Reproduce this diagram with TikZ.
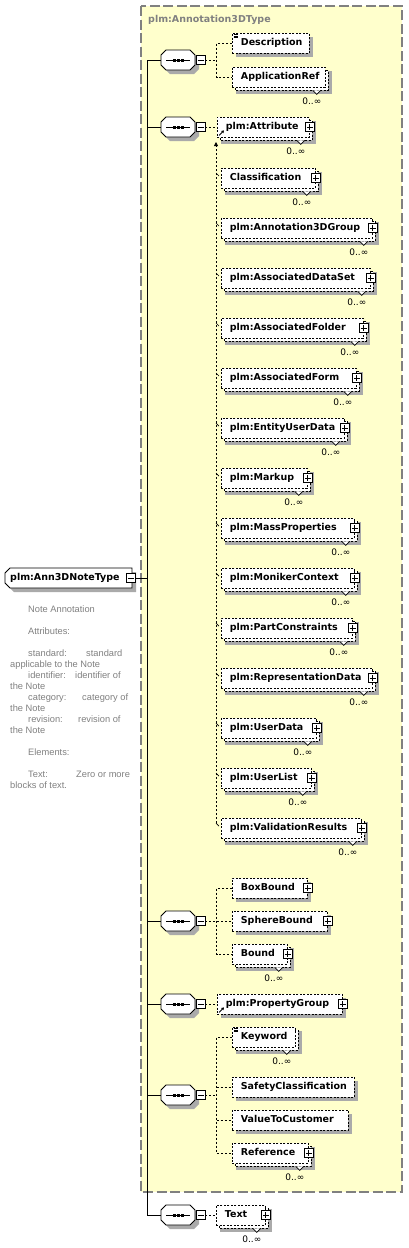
\documentclass[tikz,border=0pt]{standalone}
\usepackage{fontspec}
\setmainfont{DejaVu Sans}
\newfontfamily\docfont{Liberation Sans}
\usetikzlibrary{arrows.meta,calc}

\definecolor{yel}{RGB}{255,255,204}
\definecolor{shadowc}{RGB}{170,170,170}
\definecolor{docgray}{RGB}{128,128,128}
\definecolor{grpborder}{RGB}{128,128,128}

\tikzset{
  boxline/.style={draw=black, line width=0.8pt, dash pattern=on 2pt off 1.5pt, fill=white},
  elembox/.style={boxline, inner xsep=0pt, inner ysep=0pt, minimum height=20pt,
    text height=7pt, text depth=2pt, font=\bfseries\fontsize{9.5}{11}\selectfont, anchor=west},
  conn/.style={line width=0.8pt, dash pattern=on 2pt off 2pt},
  solidline/.style={line width=0.9pt},
  pmbox/.style={draw=black, line width=0.7pt, fill=white, minimum size=9pt, inner sep=0pt},
  occ/.style={font=\fontsize{9}{10}\selectfont, inner sep=0pt},
  doc/.style={font=\docfont\fontsize{9.3}{11}\selectfont, text=docgray, anchor=base west, inner sep=0pt},
}

% single element: name, left, right, cy, text
\newcommand{\elS}[5]{%
  \fill[shadowc] ({#2+4},{#4-6}) rectangle ({#3+4},{#4+14});
  \node[elembox] (#1) at (#2,#4) {\makebox[\dimexpr#3pt-#2pt\relax][l]{\hspace{8.5pt}#5}};}
% multiple element
\newcommand{\elM}[5]{%
  \fill[shadowc] ({#2+4},{#4-6}) rectangle ({#3+7},{#4+17});
  \draw[boxline] ({#2+3},{#4-7}) rectangle ({#3+3},{#4+13});
  \node[elembox] (#1) at (#2,#4) {\makebox[\dimexpr#3pt-#2pt\relax][l]{\hspace{8.5pt}#5}};
  \draw[line width=0.7pt, fill=white] ($(#1.south east)+(-13,3)$) -- ++(4,4) -- ++(4,-4);
  \node[occ] (#1o) at ($(#1.south east)+(-14,14)$) {0..∞};}
% plus box on element
\newcommand{\pbox}[1]{%
  \node[pmbox] (#1p) at (#1.east) {};
  \draw[line width=0.7pt] ($(#1p.center)+(-3,0)$) -- ($(#1p.center)+(3,0)$);
  \draw[line width=0.7pt] ($(#1p.center)+(0,-3)$) -- ($(#1p.center)+(0,3)$);}
% documentation icon
\newcommand{\docicon}[1]{%
  \draw[line width=0.5pt] ($(#1.north west)+(1.5,1.6)$) -- ++(4,0);
  \draw[line width=0.5pt] ($(#1.north west)+(1.5,3.3)$) -- ++(4,0);
  \draw[line width=0.5pt] ($(#1.north west)+(1.5,5.0)$) -- ++(4,0);}
% reference arrow icon
\newcommand{\refarrow}[1]{%
  \draw[line width=0.9pt, -{Triangle[length=2.5pt,width=3pt]}] ($(#1.south west)+(2,-2)$) -- ++(5,-5);}
% substitution tick
\newcommand{\subtick}[1]{%
  \draw[line width=0.7pt] ($(#1.west)+(-5,-5)$) -- ++(3,3);}
% sequence symbol: name, cy
\newcommand{\seqsym}[2]{%
  \begin{scope}[shift={(4,4)}]
    \fill[shadowc] (166,{#2-10}) -- (190,{#2-10}) -- (195,{#2-5}) -- (195,{#2+5}) -- (190,{#2+10}) -- (166,{#2+10}) -- (161,{#2+5}) -- (161,{#2-5}) -- cycle;
  \end{scope}
  \draw[line width=0.8pt, fill=white] (166,{#2-10}) -- (190,{#2-10}) -- (195,{#2-5}) -- (195,{#2+5}) -- (190,{#2+10}) -- (166,{#2+10}) -- (161,{#2+5}) -- (161,{#2-5}) -- cycle;
  \node[inner sep=0pt, minimum width=34pt, minimum height=20pt] (#1) at (178,#2) {};
  \draw[line width=0.8pt] (166,#2) -- (190,#2);
  \fill (172.5,{#2-1.5}) rectangle (175.5,{#2+1.5});
  \fill (176.5,{#2-1.5}) rectangle (179.5,{#2+1.5});
  \fill (180.5,{#2-1.5}) rectangle (183.5,{#2+1.5});
  \node[pmbox] (#1m) at (200.5,#2) {};
  \draw[line width=0.7pt] ($(#1m.center)+(-3,0)$) -- ($(#1m.center)+(3,0)$);}

\begin{document}
\begin{tikzpicture}[x=1pt,y=-1pt]
\useasboundingbox (0,0) rectangle (409,1248);

% group box
\draw[draw=grpborder, line width=1.2pt, dash pattern=on 10pt off 3.5pt, fill=yel] (141,6) rectangle (402,1192);
\node[anchor=base west, inner sep=0pt, text=grpborder, font=\bfseries\fontsize{9.5}{11}\selectfont] (gtitle) at (148,22) {plm:Annotation3DType};

% root
\begin{scope}[shift={(4,4)}]
  \fill[shadowc] (10,568) -- (132,568) -- (132,588) -- (10,588) -- (5,583) -- (5,573) -- cycle;
\end{scope}
\draw[line width=0.8pt, fill=white] (10,568) -- (132,568) -- (132,588) -- (10,588) -- (5,583) -- (5,573) -- cycle;
\node[anchor=west, inner sep=0pt, minimum width=127pt, minimum height=20pt, text height=7pt, text depth=2pt,
  font=\bfseries\fontsize{9.5}{11}\selectfont] (root) at (5,578) {\makebox[127pt][l]{\hspace{5pt}plm:Ann3DNoteType}};
\node[pmbox] (rootm) at (131,578) {};
\draw[line width=0.7pt] ($(rootm.center)+(-3,0)$) -- ($(rootm.center)+(3,0)$);

% documentation
\node[doc] (d1) at (28,612) {Note Annotation};
\node[doc] (d2) at (28,634) {Attributes:};
\node[doc] (d3) at (28,656) {\makebox[58pt][l]{standard:}standard};
\node[doc] (d4) at (10,667) {applicable to the Note};
\node[doc] (d5) at (28,678) {\makebox[47pt][l]{identifier:}identifier of};
\node[doc] (d6) at (10,689) {the Note};
\node[doc] (d7) at (28,700) {\makebox[54pt][l]{category:}category of};
\node[doc] (d8) at (10,711) {the Note};
\node[doc] (d9) at (28,722) {\makebox[50pt][l]{revision:}revision of};
\node[doc] (d10) at (10,733) {the Note};
\node[doc] (d11) at (28,755) {Elements:};
\node[doc] (d12) at (28,777) {\makebox[48pt][l]{Text:}Zero or more};
\node[doc] (d13) at (10,788) {blocks of text.};

% spine
\coordinate (spT) at (147,60);
\coordinate (spB) at (147,1215);
\draw[solidline] (spT) -- (spB);
\draw[solidline] (rootm.east) -- (rootm.east -| spT);

% sequences
\seqsym{s1}{60}
\seqsym{s2}{127}
\seqsym{s3}{921}
\seqsym{s4}{1004}
\seqsym{s5}{1095}
\seqsym{s6}{1215}
\foreach \s in {s1,s2,s3,s4,s5,s6}{\draw[solidline] (\s.west -| spT) -- (\s.west);}

% seq 1
\elS{desc}{232}{309}{43}{Description}\docicon{desc}
\elM{appref}{232}{325}{77}{ApplicationRef}
\coordinate (b1) at (216.5,60);
\draw[conn] (s1m.east) -- (b1);
\draw[conn] (desc.west) -| (b1) |- (appref.west);

% seq 2
\elM{attr}{217}{309}{127}{plm:Attribute}\pbox{attr}\refarrow{attr}
\draw[conn] (s2m.east) -- (attr.west);
\elM{m1}{221}{315}{178}{Classification}\pbox{m1}
\elM{m2}{221}{372}{228}{plm:Annotation3DGroup}\pbox{m2}
\elM{m3}{221}{370}{278}{plm:AssociatedDataSet}\pbox{m3}
\elM{m4}{221}{363}{328}{plm:AssociatedFolder}\pbox{m4}
\elM{m5}{221}{356}{378}{plm:AssociatedForm}\pbox{m5}
\elM{m6}{221}{344}{428}{plm:EntityUserData}\pbox{m6}
\elM{m7}{221}{307}{478}{plm:Markup}\pbox{m7}
\elM{m8}{221}{354}{528}{plm:MassProperties}\pbox{m8}
\elM{m9}{221}{354}{578}{plm:MonikerContext}\pbox{m9}
\elM{m10}{221}{352}{628}{plm:PartConstraints}\pbox{m10}
\elM{m11}{221}{372}{678}{plm:RepresentationData}\pbox{m11}
\elM{m12}{221}{316}{728}{plm:UserData}\pbox{m12}
\elM{m13}{221}{311}{778}{plm:UserList}\pbox{m13}
\elM{m14}{221}{361}{828}{plm:ValidationResults}\pbox{m14}
\coordinate (subtop) at (216,142);
\draw[conn, -{Triangle[length=4pt,width=4pt]}] ($(m14.west)+(-5,-5)$) -- (subtop);
\foreach \m in {m1,m2,m3,m4,m5,m6,m7,m8,m9,m10,m11,m12,m13,m14}{\subtick{\m}}

% seq 3
\elS{boxb}{232}{307}{888}{BoxBound}\pbox{boxb}
\elS{sphb}{232}{327}{921}{SphereBound}\pbox{sphb}
\elM{bound}{232}{287}{954}{Bound}\pbox{bound}
\coordinate (b3) at (216.5,921);
\draw[conn] (s3m.east) -- (sphb.west);
\draw[conn] (boxb.west) -| (b3) |- (bound.west);

% seq 4
\elS{pgrp}{217}{342}{1004}{plm:PropertyGroup}\pbox{pgrp}\refarrow{pgrp}
\draw[conn] (s4m.east) -- (pgrp.west);

% seq 5
\elM{kw}{232}{295}{1037}{Keyword}\docicon{kw}
\elS{safety}{232}{354}{1087}{SafetyClassification}
\elS{vtc}{232}{348}{1120}{ValueToCustomer}
\elM{ref}{232}{308}{1153}{Reference}\pbox{ref}
\coordinate (b5) at (216.5,1095);
\draw[conn] (s5m.east) -- (b5);
\draw[conn] (kw.west) -| (b5) |- (ref.west);
\draw[conn] (safety.west -| b5) -- (safety.west);
\draw[conn] (vtc.west -| b5) -- (vtc.west);

% seq 6
\elM{text}{216}{265}{1215}{Text}\pbox{text}
\draw[conn] (s6m.east) -- (text.west);
\end{tikzpicture}
\end{document}
